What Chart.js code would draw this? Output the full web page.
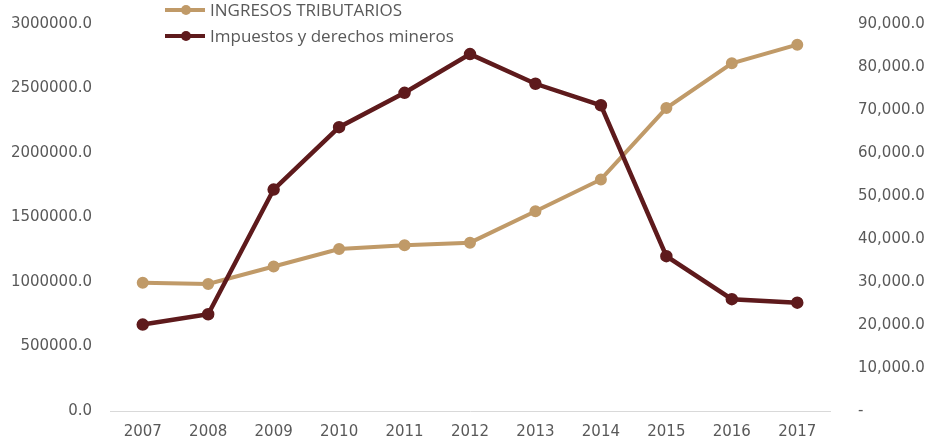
<!DOCTYPE html>
<html>
<head>
<meta charset="utf-8">
<script src="https://cdn.jsdelivr.net/npm/chart.js@4/dist/chart.umd.min.js"></script>
<style>
  html, body { margin: 0; padding: 0; background: #fff; overflow: hidden; }
  #wrap { position: relative; width: 930px; height: 440px; }
  canvas { position: absolute; left: 0; top: 0; }
  .leg { position: absolute; left: 165px; font-family: "Open Sans", sans-serif; font-size: 17px; color: #595959; white-space: nowrap; line-height: 22px; }
  .leg .sym { display: inline-block; position: relative; width: 40px; height: 22px; vertical-align: top; margin-right: 5px; }
  .leg .sym i { position: absolute; left: 0; top: 9px; width: 40px; height: 4px; }
  .leg .sym b { position: absolute; left: 16px; top: 6px; width: 10px; height: 10px; border-radius: 50%; }
</style>
</head>
<body>
<div id="wrap">
  <canvas id="c" width="930" height="440"></canvas>
  <div id="legend"></div>
</div>
<script>
const years = ["2007","2008","2009","2010","2011","2012","2013","2014","2015","2016","2017"];
const ingresosTributarios = [995000, 985000, 1120000, 1255000, 1285000, 1305000, 1548000, 1795000, 2348000, 2695000, 2840000];
const impuestosMineros = [20100, 22500, 51500, 66000, 74000, 83000, 76100, 71100, 36000, 26000, 25200];
const leftTicks = [0, 500000, 1000000, 1500000, 2000000, 2500000, 3000000];
const rightTicks = [0, 10000, 20000, 30000, 40000, 50000, 60000, 70000, 80000, 90000];
const seriesNames = ["INGRESOS TRIBUTARIOS", "Impuestos y derechos mineros"];
const seriesColors = ["#C09A68", "#5E1A1C"];

const tickFont = { family: "DejaVu Sans", size: 15 };
const tickColor = "#595959";

new Chart(document.getElementById('c'), {
  type: 'line',
  data: {
    labels: years,
    datasets: [
      { label: seriesNames[0], data: ingresosTributarios, yAxisID: 'yL',
        borderColor: seriesColors[0], backgroundColor: seriesColors[0],
        borderWidth: 4, pointRadius: 4, pointHoverRadius: 4, tension: 0, order: 2 },
      { label: seriesNames[1], data: impuestosMineros, yAxisID: 'yR',
        borderColor: seriesColors[1], backgroundColor: seriesColors[1],
        borderWidth: 4.5, pointRadius: 4, pointHoverRadius: 4, tension: 0, order: 1 }
    ]
  },
  options: {
    responsive: false,
    animation: false,
    layout: { padding: { top: 24, left: 0, right: 0, bottom: 0 }, autoPadding: false },
    plugins: { legend: { display: false }, tooltip: { enabled: false } },
    scales: {
      x: {
        offset: true,
        grid: { display: false, drawTicks: false },
        border: { color: "#D9D9D9", width: 1 },
        ticks: { font: tickFont, color: tickColor, padding: 12, maxRotation: 0 },
        afterFit: s => { s.height = 29; s.paddingLeft = 0; s.paddingRight = 0; }
      },
      yL: {
        position: 'left', min: 0, max: 3000000,
        afterBuildTicks: s => { s.ticks = leftTicks.map(v => ({ value: v })); },
        grid: { display: false, drawTicks: false },
        border: { display: false },
        ticks: { font: tickFont, color: tickColor, padding: 18,
                 callback: v => Number(v).toFixed(1) },
        afterFit: s => { s.width = 110; s.paddingTop = 0; s.paddingBottom = 0; }
      },
      yR: {
        position: 'right', min: 0, max: 90000,
        afterBuildTicks: s => { s.ticks = rightTicks.map(v => ({ value: v })); },
        grid: { display: false, drawTicks: false },
        border: { display: false },
        ticks: { font: tickFont, color: tickColor, padding: 28,
                 callback: v => v === 0 ? '-' : Number(v).toLocaleString('en-US', { minimumFractionDigits: 1, maximumFractionDigits: 1 }) },
        afterFit: s => { s.width = 100; s.paddingTop = 0; s.paddingBottom = 0; }
      }
    }
  }
});

const legendEl = document.getElementById('legend');
const legTops = [-1, 25];
seriesNames.forEach((name, i) => {
  const d = document.createElement('div');
  d.className = 'leg';
  d.style.top = legTops[i] + 'px';
  d.innerHTML = '<span class="sym"><i style="background:' + seriesColors[i] + '"></i><b style="background:' + seriesColors[i] + '"></b></span>';
  d.appendChild(document.createTextNode(name));
  legendEl.appendChild(d);
});
</script>
</body>
</html>
